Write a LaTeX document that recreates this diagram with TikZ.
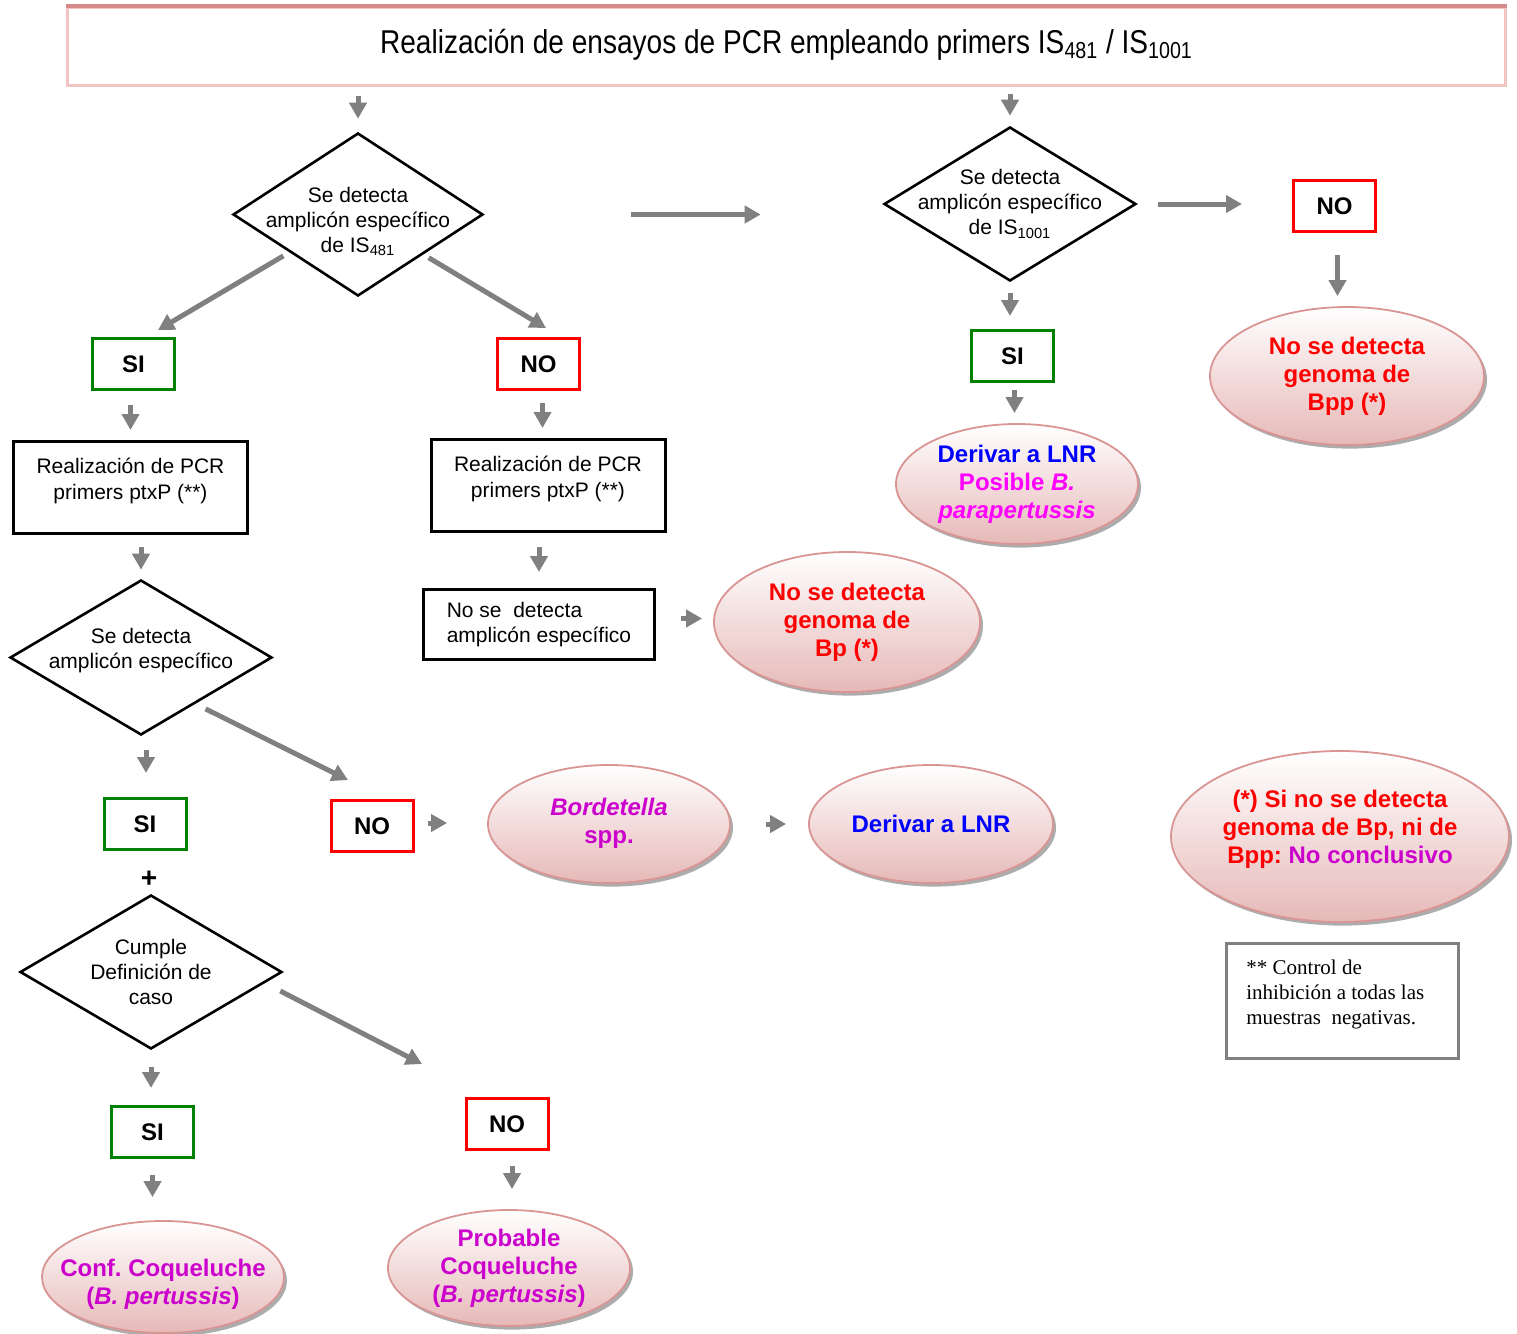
\documentclass[tikz,border=0pt]{standalone}
\usepackage{fontspec}
\setmainfont{Liberation Sans}
\newfontfamily\headfont[FakeStretch=0.85]{Liberation Sans}
\newfontfamily\notefont{Liberation Serif}
\usetikzlibrary{arrows.meta,shapes.geometric,shadows}
\definecolor{gris}{HTML}{808080}
\definecolor{verde}{HTML}{008000}
\definecolor{rojo}{HTML}{FF0000}
\definecolor{azul}{HTML}{0000FF}
\definecolor{fucsia}{HTML}{FF00FF}
\definecolor{morado}{HTML}{CC00CC}
\definecolor{rosa}{HTML}{D99594}
\definecolor{rosafondo}{HTML}{E6B9B8}
\definecolor{rosaosc}{HTML}{D68A8A}
\definecolor{rosaclaro}{HTML}{F2C4C4}
\frenchspacing

\begin{document}
\begin{tikzpicture}[x=0.5pt, y=-0.5pt,
  flecha/.style={draw=gris, line width=2.5pt, -{Triangle[width=8.5pt,length=8pt]}},
  rombo/.style={diamond, draw, line width=1.3pt, inner xsep=-10pt, inner ysep=-8pt, align=center,
    font=\fontsize{10.5}{12.5}\selectfont},
  caja/.style={draw, line width=1.5pt, minimum width=117pt, minimum height=46pt},
  texto/.style={align=center, inner sep=0pt, font=\fontsize{10.5}{13}\selectfont},
  cajasi/.style={draw=verde, line width=1.5pt, minimum width=41pt, minimum height=25.5pt,
    font=\fontsize{12}{14}\selectfont\bfseries},
  cajano/.style={cajasi, draw=rojo},
  elipse/.style={ellipse, draw=rosa, line width=0.9pt, top color=white, bottom color=rosafondo,
    inner sep=0pt, align=center, font=\fontsize{12}{14}\selectfont\bfseries,
    drop shadow={shadow xshift=1.5pt, shadow yshift=-1.8pt, fill=gray!65, opacity=1}}]

\useasboundingbox (0,0) rectangle (1517,1334);

% ================= encabezado =================
\node[draw=rosaclaro, line width=1.5pt, minimum width=719pt, minimum height=39pt, align=center,
  font=\headfont\fontsize{16.5}{18}\selectfont] (head) at (786.5,46)
  {Realización de ensayos de PCR empleando primers IS\textsubscript{481} / IS\textsubscript{1001}\\[-13pt]};
\draw[rosaosc, line width=2pt] (head.north west) -- (head.north east);

% ================= rama IS481 =================
\node[rombo, aspect=1.53, minimum width=125pt, minimum height=81.5pt] (d1) at (358,214.5)
  {Se detecta\\amplicón específico\\de IS\textsubscript{481}\\[-17.5pt]};
\node[cajasi] (siA) at (133.5,364) {SI};
\node[cajano] (noA) at (538.5,364) {NO};

\node[caja] (pcr1) at (130.5,487.5) {};
\node[texto, anchor=north] (pcr1txt) at ([yshift=-9pt]pcr1.north) {Realización de PCR\\primers ptxP (**)};
\node[caja] (pcr2) at (548,485.5) {};
\node[texto, anchor=north] (pcr2txt) at ([yshift=-9pt]pcr2.north) {Realización de PCR\\primers ptxP (**)};

\node[draw, line width=1.5pt, minimum width=115.5pt, minimum height=35pt, align=left,
  font=\fontsize{10.5}{12.5}\selectfont] (noamp) at (539,624.5) {No se \ detecta\\amplicón específico};
\node[elipse, text=rojo, minimum width=133pt, minimum height=70pt] (elbp) at (847,622)
  {No se detecta\\genoma de\\Bp (*)};

% ptxP positivo / negativo
\node[rombo, aspect=1.69, minimum width=131pt, minimum height=77.5pt] (d3) at (141,657.5)
  {Se detecta\\amplicón específico\\[-3.5pt]};
\node[cajasi] (siB) at (145,824) {SI};
\node[cajano] (noB) at (372,826) {NO};
\node[font=\fontsize{14}{14}\selectfont\bfseries] (mas) at (149,879) {+};
\node[elipse, text=morado, minimum width=121pt, minimum height=59pt] (elbord) at (609,824)
  {\textit{Bordetella}\\spp.\\[-11pt]};
\node[elipse, text=azul, minimum width=122pt, minimum height=59pt] (ellnr) at (931,824)
  {Derivar a LNR};

% definicion de caso
\node[rombo, aspect=1.7, minimum width=131pt, minimum height=77pt] (d4) at (151,972)
  {Cumple\\Definición de\\caso};
\node[cajasi] (siC) at (152.5,1132) {SI};
\node[cajano] (noC) at (507,1124) {NO};
\node[elipse, text=morado, inner xsep=-10pt, minimum width=121pt, minimum height=56pt] (elconf) at (163,1277)
  {Conf. Coqueluche\\(\textit{B. pertussis})\\[-18.5pt]};
\node[elipse, text=morado, inner xsep=-4pt, minimum width=121pt, minimum height=58pt] (elprob) at (509,1268)
  {Probable\\Coqueluche\\(\textit{B. pertussis})};

% ================= rama IS1001 =================
\node[rombo, aspect=1.64, minimum width=126pt, minimum height=77pt] (d2) at (1010,204)
  {Se detecta\\amplicón específico\\de IS\textsubscript{1001}};
\node[cajano] (no1) at (1334.5,206) {NO};
\node[elipse, text=rojo, minimum width=137pt, minimum height=69pt] (elbpp) at (1347,376)
  {No se detecta\\genoma de\\Bpp (*)};
\node[cajasi] (si1) at (1012.5,356) {SI};
\node[elipse, minimum width=121pt, minimum height=60pt] (elpara) at (1017,484)
  {\textcolor{azul}{Derivar a LNR}\\\textcolor{fucsia}{Posible \textit{B.}}\\\textcolor{fucsia}{\textit{parapertussis}}};

% ================= notas =================
\node[elipse, text=rojo, minimum width=169pt, minimum height=85.5pt] (elnoc) at (1340,836.5)
  {(*) Si no se detecta\\genoma de Bp, ni de\\Bpp: \textcolor{morado}{No conclusivo}\\[-4pt]};
\node[draw=gris, line width=1.5pt, minimum width=116pt, minimum height=57.5pt] (nota) at (1342.5,1001) {};
\node[anchor=north west, align=left, inner sep=0pt, font=\notefont\fontsize{10.5}{12.5}\selectfont]
  (notatxt) at ([xshift=10.5pt,yshift=-9pt]nota.north west)
  {** Control de\\inhibición a todas las\\muestras \ negativas.};

% ================= flechas =================
\draw[flecha, shorten <=4.5pt, shorten >=6.5pt] (head.south -| d1.north) -- (d1.north);
\draw[flecha, shorten <=3.5pt, shorten >=5pt] (head.south -| d2.north) -- (d2.north);
\draw[flecha, shorten <=73.5pt, shorten >=61pt] (d1.east) -- (d1.east -| d2.west);
\draw[flecha, shorten <=10.5pt, shorten >=25pt] (d2.east) -- (d2.east -| no1.west);
\draw[flecha, shorten <=11pt, shorten >=5pt] ([xshift=1.5pt]no1.south) -- ([xshift=1.5pt]no1.south |- elbpp.north);
\draw[flecha, shorten <=5.5pt, shorten >=6.5pt] (d2.south) -- (d2.south |- si1.north);
\draw[flecha, shorten <=3.5pt, shorten >=5pt] ([xshift=1pt]si1.south) -- ([xshift=1pt]si1.south |- elpara.north);

\draw[flecha] ([xshift=-5.75pt]d1.south west) -- ([xshift=12.25pt,yshift=3.5pt]siA.north);
\draw[flecha] ([xshift=3.75pt,yshift=-0.9pt]d1.south east) -- ([xshift=3.75pt,yshift=4.5pt]noA.north);
\draw[flecha, shorten <=7pt, shorten >=5pt] ([xshift=-1.5pt]siA.south) -- ([xshift=-1.5pt]siA.south |- pcr1.north);
\draw[flecha, shorten <=6pt, shorten >=5pt] ([xshift=2pt]noA.south) -- ([xshift=2pt]noA.south |- pcr2.north);
\draw[flecha, shorten <=7pt, shorten >=8pt] (pcr2.south -| noamp.north) -- (noamp.north);
\draw[flecha, shorten <=12.5pt, shorten >=5.5pt] ([yshift=3pt]noamp.east) -- ([yshift=3pt]noamp.east -| elbp.west);

\draw[flecha, shorten <=6pt, shorten >=4.5pt] (pcr1.south -| d3.north) -- (d3.north);
\draw[flecha, shorten <=7pt, shorten >=12pt] ([xshift=2.5pt]d3.south) -- ([xshift=2.5pt]d3.south |- siB.north);
\draw[flecha] ([xshift=-0.75pt,yshift=-6pt]d3.south east) -- ([xshift=-12pt,yshift=9.5pt]noB.north);
\draw[flecha, shorten <=6.5pt, shorten >=20pt] ([yshift=1.5pt]noB.east) -- ([yshift=1.5pt]noB.east -| elbord.west);
\draw[flecha, shorten <=17.5pt, shorten >=11pt] (elbord.east) -- (ellnr.west);

\draw[flecha, shorten <=8.5pt, shorten >=8.5pt] (d4.south) -- (d4.south |- siC.north);
\draw[flecha] ([xshift=-1.5pt,yshift=-9.5pt]d4.east) -- ([xshift=-42.5pt,yshift=16.5pt]noC.north);
\draw[flecha, shorten <=8pt, shorten >=11.5pt] (siC.south) -- (siC.south |- elconf.north);
\draw[flecha, shorten <=7.5pt, shorten >=10pt] ([xshift=2.5pt]noC.south) -- ([xshift=2.5pt]noC.south |- elprob.north);

\end{tikzpicture}
\end{document}
